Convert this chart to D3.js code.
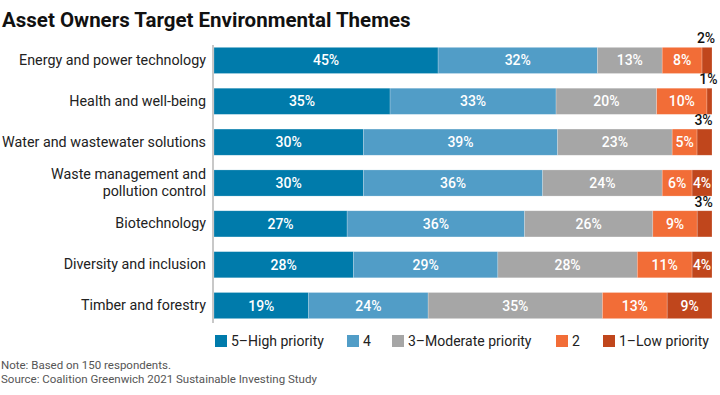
<!DOCTYPE html>
<html><head><meta charset="utf-8">
<script src="https://cdn.jsdelivr.net/npm/d3@7"></script>
<style>
body{margin:0;background:#fff;}
svg text{font-family:Roboto,"Open Sans",sans-serif;}
</style></head>
<body><svg id="c" width="720" height="395"></svg>
<script>
const categories = ["Energy and power technology","Health and well-being","Water and wastewater solutions","Waste management and pollution control","Biotechnology","Diversity and inclusion","Timber and forestry"];
const seriesNames = ["5\u2013High priority","4","3\u2013Moderate priority","2","1\u2013Low priority"];
const high = [45,35,30,30,27,28,19];
const four = [32,33,39,36,36,29,24];
const moderate = [13,20,23,24,26,28,35];
const two = [8,10,5,6,9,11,13];
const low = [2,1,3,4,3,4,9];
const colors = ["#007bab","#519dc7","#a6a6a6","#f26d37","#c0461c"];

(function(){
const svg = d3.select("#c");
const series = [high,four,moderate,two,low];
const mL = 214, mR = 712, mT = 40, mB = 326;
const x = d3.scaleLinear().domain([0,100]).range([mL,mR]);
const y = d3.scaleBand().domain(categories).range([mT,mB]).paddingInner(0.36).paddingOuter(0.18);

svg.append("text").attr("x",2).attr("y",27).attr("font-size",20.5).attr("font-weight",700).attr("fill","#111")
  .text("Asset Owners Target Environmental Themes");

categories.forEach((c,i)=>{
  const vals = series.map(s=>s[i]);
  const tot = d3.sum(vals);
  let cum = 0;
  vals.forEach((v,j)=>{
    const x0 = x(cum/tot*100), x1 = x((cum+v)/tot*100);
    cum += v;
    svg.append("rect").attr("x",x0).attr("y",y(c)).attr("width",x1-x0).attr("height",y.bandwidth())
      .attr("fill",colors[j]).attr("stroke","rgba(255,255,255,0.35)").attr("stroke-width",0.6);
    const small = v < 4 && (x1-x0) < 18;
    svg.append("text").attr("x",(x0+x1)/2 - (small?1:0))
      .attr("y", small ? y(c)-4 : y(c)+y.bandwidth()/2+5)
      .attr("text-anchor","middle").attr("font-size",14).attr("font-weight",500)
      .attr("fill", small ? "#111" : "#fff").text(v+"%");
  });
});

const yAxis = svg.append("g").attr("transform",`translate(${mL-1},0)`).call(d3.axisLeft(y).tickSize(0).tickPadding(7));
yAxis.select(".domain").attr("stroke","#c8c8c8").attr("stroke-width",2).attr("d",`M0,${mT+5}V${mB-3}`);
yAxis.selectAll(".tick text").attr("font-size",14.3).attr("fill","#222").attr("font-family","Roboto,sans-serif")
  .each(function(d){
    const t = d3.select(this);
    if(d.startsWith("Waste management")){
      t.text(null);
      t.append("tspan").attr("x",-7).attr("dy","-0.25em").text("Waste management and");
      t.append("tspan").attr("x",-7).attr("dy","1.15em").text("pollution control");
    }
  });

const legX = [215,347,392,556,603];
const lg = svg.append("g");
seriesNames.forEach((n,j)=>{
  lg.append("rect").attr("x",legX[j]).attr("y",335).attr("width",12).attr("height",12).attr("fill",colors[j]);
  lg.append("text").attr("x",legX[j]+16).attr("y",346).attr("font-size",14).attr("fill","#222").text(n);
});

svg.append("text").attr("x",1).attr("y",369).attr("font-size",11.5).attr("fill","#555").text("Note:  Based on 150 respondents.");
svg.append("text").attr("x",1).attr("y",383).attr("font-size",11.5).attr("fill","#555").text("Source: Coalition Greenwich 2021 Sustainable Investing Study");
})();
</script></body></html>
